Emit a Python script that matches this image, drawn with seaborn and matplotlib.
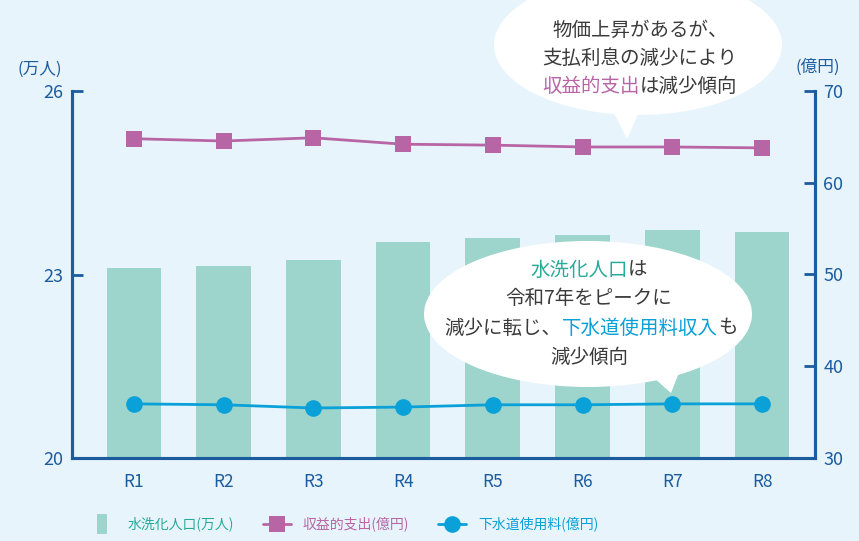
import numpy as np
import pandas as pd
import matplotlib
matplotlib.use('Agg')
import matplotlib.pyplot as plt
import seaborn as sns
from matplotlib.patches import Ellipse, Polygon
from matplotlib.lines import Line2D
from matplotlib.transforms import IdentityTransform

# data
years = ['R1', 'R2', 'R3', 'R4', 'R5', 'R6', 'R7', 'R8']
population = [23.10, 23.14, 23.24, 23.53, 23.59, 23.64, 23.73, 23.69]   # 万人
expense = [64.8, 64.55, 64.9, 64.2, 64.1, 63.9, 63.9, 63.8]             # 億円
fee_income = [35.9, 35.8, 35.45, 35.55, 35.8, 35.8, 35.9, 35.9]         # 億円

bg = '#e8f4fc'
axis_blue = '#1b5c9e'
bar_col = '#9dd5cc'
mag = '#b865a6'
cyan = '#0aa0d8'
teal_txt = '#26ab98'
dark = '#3a3a3a'

sns.set_style('white')
plt.rcParams['font.family'] = ['Noto Sans CJK JP', 'DejaVu Sans']

W, H = 859, 541
fig = plt.figure(figsize=(W / 100, H / 100), dpi=100, facecolor=bg)
ax = fig.add_axes([72 / W, 83 / H, (815 - 72) / W, (458 - 91) / H])
ax.set_facecolor(bg)

df = pd.DataFrame({'year': years, 'pop': population})
sns.barplot(data=df, x='year', y='pop', color=bar_col, width=0.61, saturation=1,
            linewidth=0, ax=ax)
ax.set_ylim(20, 26)
ax.set_yticks([20, 23, 26])
ax.set_xlim(-0.69, 7.59)
ax.set_xlabel('')
ax.set_ylabel('')

ax2 = ax.twinx()
ax2.patch.set_visible(False)
xs = np.arange(len(years))
sns.lineplot(x=xs, y=expense, color=mag, marker='s', markersize=11, markeredgewidth=0,
             linewidth=2, ax=ax2)
sns.lineplot(x=xs, y=fee_income, color=cyan, marker='o', markersize=12, markeredgewidth=0,
             linewidth=2, ax=ax2)
ax2.set_ylim(30, 70)
ax2.set_yticks([30, 40, 50, 60, 70])
ax2.set_xlim(-0.69, 7.59)

for a in (ax, ax2):
    a.spines['top'].set_visible(False)
    for s in ('left', 'right', 'bottom'):
        a.spines[s].set_color(axis_blue)
        a.spines[s].set_linewidth(2.2)
    a.tick_params(axis='y', direction='in', length=8, width=2, color=axis_blue,
                  labelcolor=axis_blue, labelsize=13, pad=6)
ax.tick_params(axis='x', length=0, labelcolor=axis_blue, labelsize=12.5, pad=11)

fig.text(40 / W, 1 - 69 / H, '(万人)', color=axis_blue, fontsize=12, ha='center', va='center')
fig.text(818 / W, 1 - 67 / H, '(億円)', color=axis_blue, fontsize=12, ha='center', va='center')

# speech bubbles
def bubble(cx, cy, w, h, tail):
    e = Ellipse((cx, H - cy), w, h, transform=IdentityTransform(), facecolor='white',
                edgecolor='none', zorder=5)
    t = Polygon([(x, H - y) for x, y in tail], closed=True, transform=IdentityTransform(),
                facecolor='white', edgecolor='none', zorder=5)
    fig.add_artist(e)
    fig.add_artist(t)

bubble(638, 45, 288, 140, [(610, 105), (642, 105), (627, 139)])
bubble(588, 314, 328, 146, [(645, 370), (680, 370), (671, 393)])

renderer = fig.canvas.get_renderer()

def rich_line(cx, cy, parts, size=14):
    texts = [fig.text(0, 0, s, color=c, fontsize=size, ha='left', va='center', zorder=6)
             for s, c in parts]
    widths = [t.get_window_extent(renderer).width for t in texts]
    cur = cx - sum(widths) / 2
    for t, w in zip(texts, widths):
        t.set_position((cur / W, 1 - cy / H))
        cur += w

rich_line(640, 30, [('物価上昇があるが、', dark)])
rich_line(640, 58, [('支払利息の減少により', dark)])
rich_line(640, 86, [('収益的支出', mag), ('は減少傾向', dark)])

rich_line(589, 270, [('水洗化人口', teal_txt), ('は', dark)])
rich_line(589, 299, [('令和7年をピークに', dark)])
rich_line(591, 328, [('減少に転じ、', dark), ('下水道使用料収入', cyan), ('も', dark)])
rich_line(589, 357, [('減少傾向', dark)])

# legend
rect = [(-0.5, -1), (0.5, -1), (0.5, 1), (-0.5, 1)]
handles = [Line2D([], [], linestyle='none', color=bar_col, marker=rect, markersize=14,
                  markeredgewidth=0),
           Line2D([], [], color=mag, marker='s', markersize=11, linewidth=2, markeredgewidth=0),
           Line2D([], [], color=cyan, marker='o', markersize=12, linewidth=2, markeredgewidth=0)]
labels = ['水洗化人口(万人)', '収益的支出(億円)', '下水道使用料(億円)']
leg = fig.legend(handles, labels, loc='center', bbox_to_anchor=(343 / W, 17 / H), ncol=3,
                 frameon=False, fontsize=10, handlelength=2.0, columnspacing=2.1,
                 handletextpad=0.85)
for txt, c in zip(leg.get_texts(), [teal_txt, mag, cyan]):
    txt.set_color(c)

fig.savefig('out.png', dpi=100, facecolor=bg)
